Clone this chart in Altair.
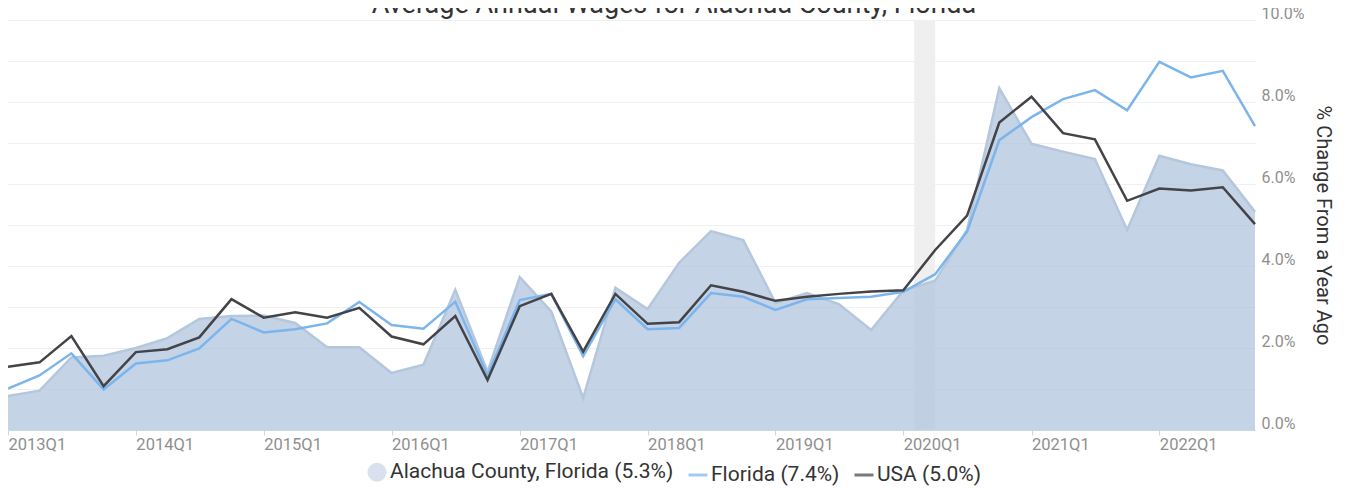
import altair as alt
import pandas as pd

# ---- data -------------------------------------------------------------
years = list(range(2013, 2023))
dates = [f"{y}-{(q - 1) * 3 + 1:02d}-01" for y in years for q in range(1, 5)]

alachua = [0.83, 0.96, 1.77, 1.81, 2.00, 2.24, 2.71, 2.78, 2.79, 2.61,
           2.02, 2.02, 1.39, 1.59, 3.42, 1.42, 3.73, 2.89, 0.78, 3.47,
           2.95, 4.08, 4.85, 4.63, 3.10, 3.34, 3.07, 2.44, 3.40, 3.64,
           4.88, 8.34, 6.98, 6.79, 6.61, 4.88, 6.69, 6.48, 6.33, 5.32]
florida = [1.01, 1.33, 1.87, 0.99, 1.62, 1.70, 1.99, 2.71, 2.38, 2.46,
           2.60, 3.12, 2.56, 2.47, 3.13, 1.33, 3.17, 3.32, 1.80, 3.19,
           2.46, 2.49, 3.34, 3.25, 2.93, 3.19, 3.22, 3.25, 3.37, 3.80,
           4.84, 7.07, 7.63, 8.07, 8.29, 7.80, 8.98, 8.60, 8.76, 7.41]
usa = [1.54, 1.65, 2.29, 1.07, 1.90, 1.97, 2.26, 3.19, 2.74, 2.87,
       2.74, 2.98, 2.28, 2.09, 2.78, 1.22, 3.02, 3.32, 1.91, 3.32,
       2.59, 2.63, 3.53, 3.37, 3.15, 3.25, 3.32, 3.38, 3.41, 4.39,
       5.23, 7.50, 8.13, 7.24, 7.09, 5.59, 5.89, 5.84, 5.92, 5.02]

names = ["Alachua County, Florida (5.3%)", "Florida (7.4%)", "USA (5.0%)"]
colors = ["#b0c4de", "#7cb5ec", "#434348"]

rec_start = ["2020-02-01"]
rec_end = ["2020-04-01"]

y_ticks = list(range(0, 11))
title_text = ["Average Annual Wages for Alachua County, Florida"]
y_title = "% Change From a Year Ago"

long = pd.DataFrame({
    "date": dates * 3,
    "series": [names[0]] * len(dates) + [names[1]] * len(dates) + [names[2]] * len(dates),
    "value": alachua + florida + usa,
})
rec = pd.DataFrame({"start": rec_start, "end": rec_end})
title_df = pd.DataFrame({"title": title_text})

FONT = "Roboto"
W, H = 1247, 410

x_axis = alt.Axis(
    title=None,
    values=[alt.DateTime(year=y, month=1, date=1, utc=True) for y in years],
    labelExpr="utcFormat(datum.value, '%Y') + 'Q' + utcquarter(datum.value)",
    labelAlign="left", labelBaseline="top", labelPadding=1,
    labelFont=FONT, labelFontSize=16.5, labelColor="#8f8f8f",
    domainColor="#ccd6eb", tickColor="#ccd6eb", tickSize=5,
    grid=False, labelOverlap=False, labelFlush=False,
)
x_scale = alt.Scale(type="utc", nice=False)

y_axis = alt.Axis(
    orient="right", values=y_ticks, grid=True, gridColor="#f0f0f0",
    domain=False, ticks=False,
    labelExpr="datum.value % 2 == 0 ? format(datum.value, '.1f') + '%' : ''",
    labelAlign="left", labelBaseline="alphabetic", labelOffset=-1.5, labelPadding=6,
    labelFont=FONT, labelFontSize=16, labelColor="#8f8f8f",
    title=y_title, titleFont=FONT, titleFontSize=20, titleFontWeight="normal",
    titleColor="#333333", titleAngle=90, titleBaseline="middle", titleAlign="center",
    titleX=67, titleY=H / 2,
)
y_scale = alt.Scale(domain=[0, 10], nice=False, zero=True)


def X(field):
    return alt.X(f"{field}:T", scale=x_scale, axis=x_axis)


Y = alt.Y("value:Q", scale=y_scale, axis=y_axis)

band = alt.Chart(rec).mark_rect(color="#efefef").encode(
    x=X("start"), x2="end:T"
)

area = alt.Chart(long).transform_filter(alt.datum.series == names[0]).mark_area(
    color=colors[0], opacity=0.75
).encode(x=X("date"), y=Y)

area_line = alt.Chart(long).transform_filter(alt.datum.series == names[0]).mark_line(
    color="#b5c7dd", strokeWidth=2.5
).encode(x=X("date"), y=Y)

fl_line = alt.Chart(long).transform_filter(alt.datum.series == names[1]).mark_line(
    color=colors[1], strokeWidth=2.5
).encode(x=X("date"), y=Y)

us_line = alt.Chart(long).transform_filter(alt.datum.series == names[2]).mark_line(
    color=colors[2], strokeWidth=2.5
).encode(x=X("date"), y=Y)

leg = alt.Legend(
    title=None, orient="none", legendX=358, legendY=441, direction="horizontal",
    labelFont=FONT, labelFontSize=21, labelColor="#333333", labelLimit=500,
    symbolSize=360, symbolStrokeWidth=3, columnPadding=8, labelOffset=2, padding=0,
)
legend_layer = alt.Chart(long).transform_filter("false").mark_point(
    filled=True, strokeWidth=3, size=360
).encode(
    x=X("date"), y=Y,
    fill=alt.Fill("series:N", scale=alt.Scale(domain=names, range=[colors[0], "transparent", "transparent"]), legend=leg),
    stroke=alt.Stroke("series:N", scale=alt.Scale(domain=names, range=["transparent", colors[1], colors[2]]), legend=leg),
    shape=alt.Shape("series:N", scale=alt.Scale(domain=names, range=["circle", "stroke", "stroke"]), legend=leg),
)

# chart title, drawn as text just above the plot (partly cut by the top edge as in the original)
title_layer = alt.Chart(title_df).mark_text(
    font=FONT, fontSize=27, color="#333333", align="center", baseline="alphabetic"
).encode(x=alt.value(666), y=alt.value(-7), text="title:N")

chart = alt.layer(band, area, area_line, fl_line, us_line, legend_layer, title_layer).properties(
    width=W, height=H,
    autosize=alt.AutoSizeParams(type="none"),
    padding={"left": 0, "top": 12, "right": 85, "bottom": 58},
).configure_view(stroke=None)

chart.save("out.html", embed_options={"renderer": "svg", "actions": False})
